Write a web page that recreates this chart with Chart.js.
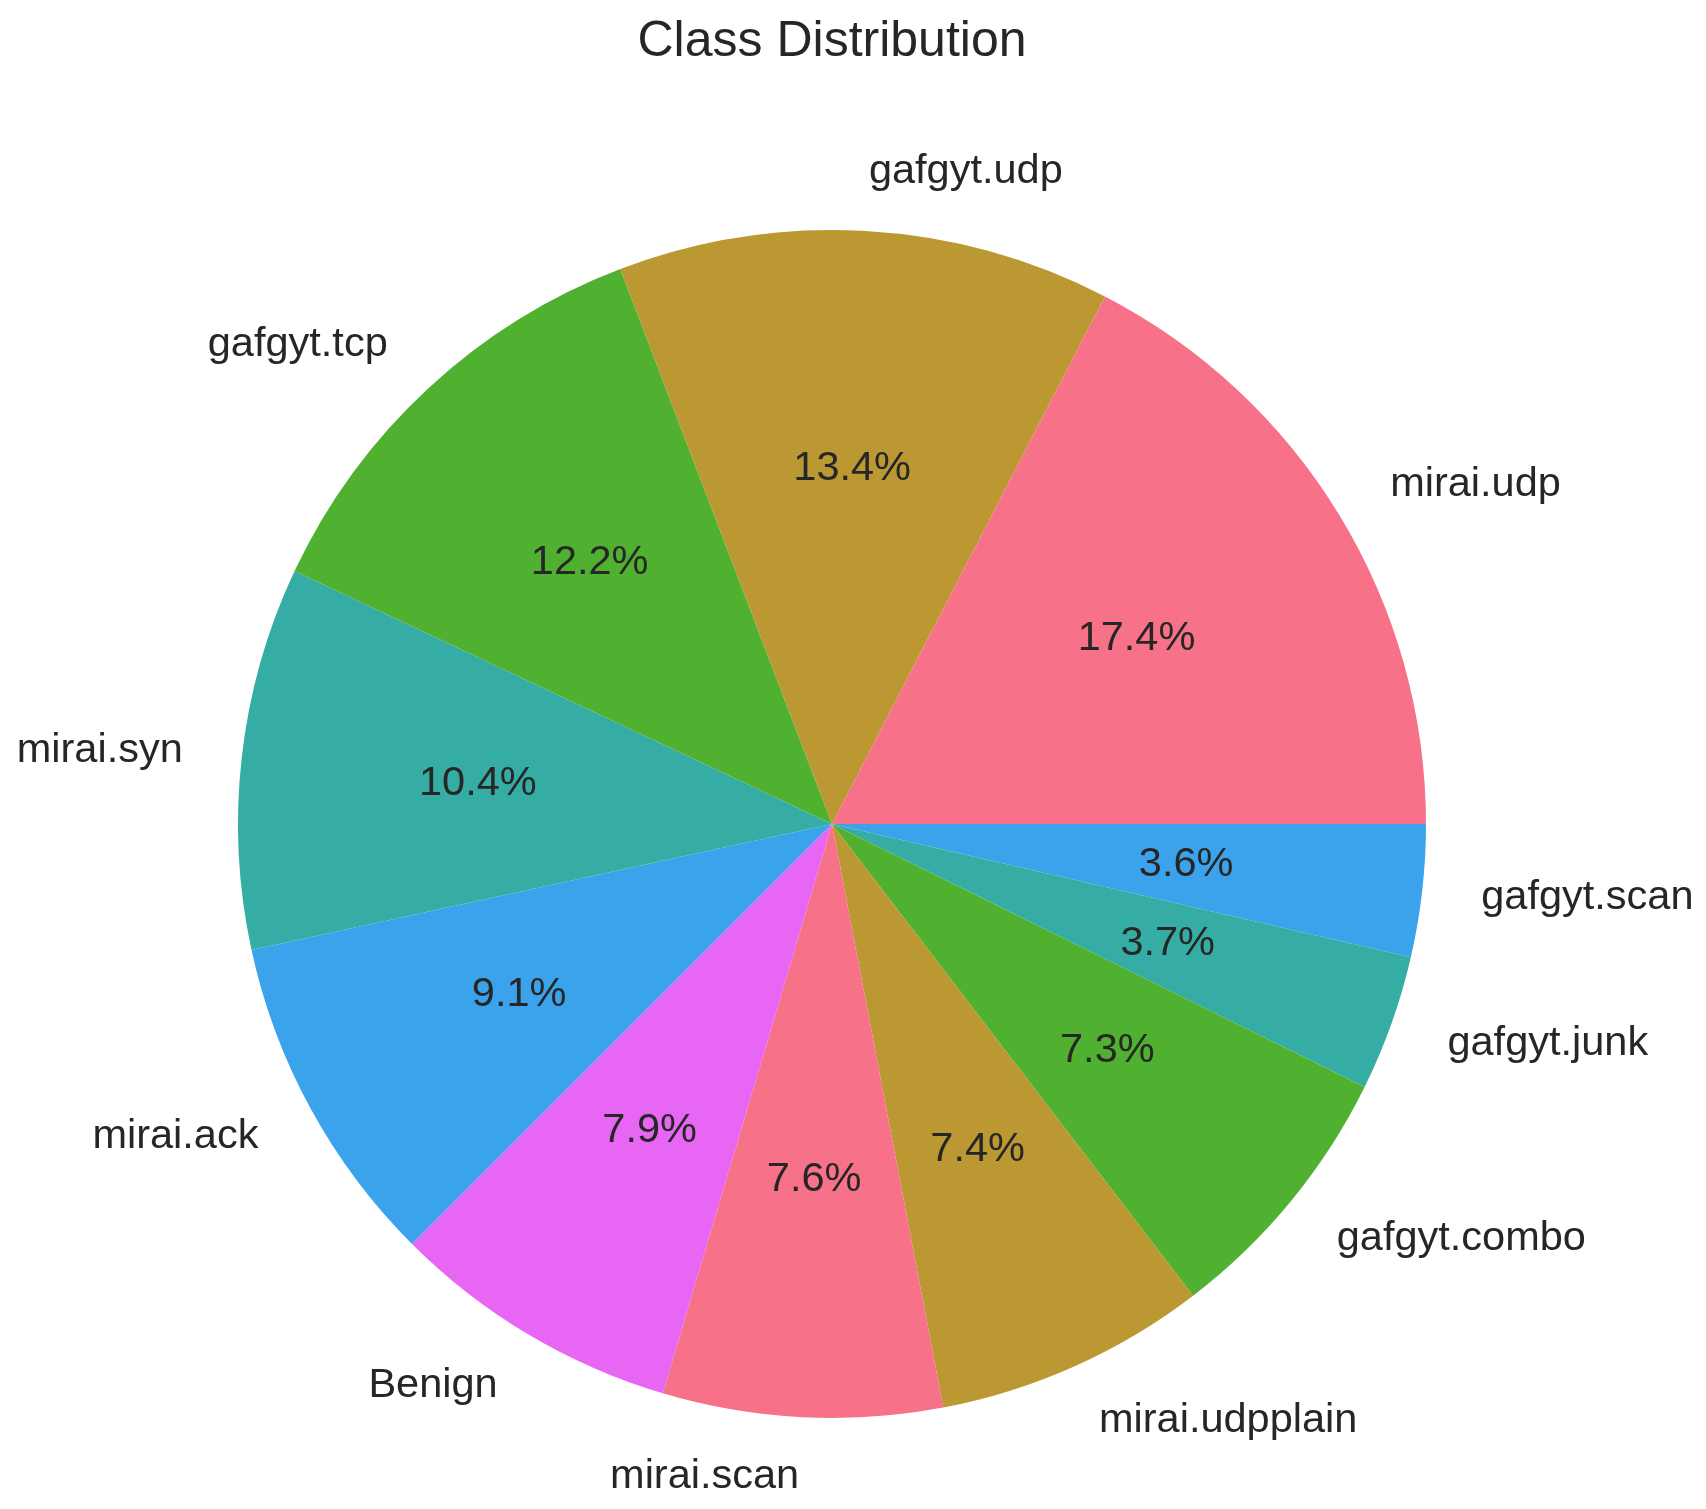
<!DOCTYPE html>
<html>
<head>
<meta charset="utf-8">
<script src="https://cdn.jsdelivr.net/npm/chart.js@4.4.1/dist/chart.umd.min.js"></script>
<style>
html,body{margin:0;padding:0;background:#ffffff;}
#wrap{width:1706px;height:1509px;position:relative;}
</style>
</head>
<body>
<div id="wrap"><canvas id="c"></canvas></div>
<script>
// Data in matplotlib order (counter-clockwise from 3 o'clock)
const categories = ["mirai.udp","gafgyt.udp","gafgyt.tcp","mirai.syn","mirai.ack","Benign","mirai.scan","mirai.udpplain","gafgyt.combo","gafgyt.junk","gafgyt.scan"];
const shares = [17.4,13.4,12.2,10.4,9.1,7.9,7.6,7.4,7.3,3.7,3.6];
const palette = ["#f77189","#bb9832","#50b131","#36ada4","#3ba3ec","#e866f4"];
const titleText = "Class Distribution";

// Chart.js draws clockwise, so reverse order to mimic counter-clockwise layout
const labelsCJ = categories.slice().reverse();
const valuesCJ = shares.slice().reverse();
const colorsCJ = categories.map((_, i) => palette[i % palette.length]).reverse();

const FONT = '"Liberation Sans", Arial, "DejaVu Sans", sans-serif';
const TEXT = '#262626';

const labelPlugin = {
  id: 'pieLabels',
  afterDatasetsDraw(chart) {
    const ctx = chart.ctx;
    const meta = chart.getDatasetMeta(0);
    const total = valuesCJ.reduce((a, b) => a + b, 0);
    ctx.save();
    ctx.fillStyle = TEXT;
    meta.data.forEach((arc, i) => {
      const p = arc.getProps(['x','y','startAngle','endAngle','outerRadius'], true);
      const mid = (p.startAngle + p.endAngle) / 2;
      const c = Math.cos(mid), s = Math.sin(mid);
      ctx.font = '41.5px ' + FONT;
      ctx.textAlign = 'center';
      ctx.textBaseline = 'middle';
      const pct = (valuesCJ[i] / total * 100).toFixed(1) + '%';
      ctx.fillText(pct, p.x + c * p.outerRadius * 0.6, p.y + s * p.outerRadius * 0.6);
      ctx.textAlign = c >= 0 ? 'left' : 'right';
      ctx.fillText(labelsCJ[i], p.x + c * p.outerRadius * 1.1, p.y + s * p.outerRadius * 1.1);
    });
    ctx.font = '50px ' + FONT;
    ctx.textAlign = 'center';
    ctx.textBaseline = 'alphabetic';
    ctx.fillText(titleText, 832, 56);
    ctx.restore();
  }
};

new Chart(document.getElementById('c'), {
  type: 'pie',
  data: {
    labels: labelsCJ,
    datasets: [{
      data: valuesCJ,
      backgroundColor: colorsCJ,
      borderColor: colorsCJ,
      borderWidth: 0
    }]
  },
  options: {
    responsive: true,
    maintainAspectRatio: false,
    animation: false,
    rotation: 90,
    layout: { padding: { left: 238, right: 280, top: 230, bottom: 91 } },
    plugins: {
      legend: { display: false },
      tooltip: { enabled: false },
      title: { display: false }
    }
  },
  plugins: [labelPlugin]
});
</script>
</body>
</html>
